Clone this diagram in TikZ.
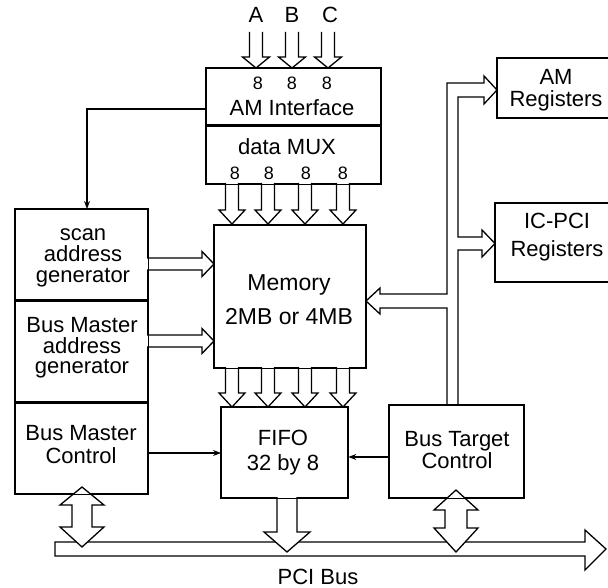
\documentclass[tikz,border=0pt]{standalone}
\usepackage{fontspec}
\setmainfont{Liberation Sans}
\usetikzlibrary{arrows.meta}

% hollow block arrow pointing down: centre x, tail y, head-base y, tip y, shaft half, head half
\newcommand\HollowDown[6]{%
  \draw[hollow] (#1-#5,#2) -- (#1-#5,#3) -- (#1-#6,#3) -- (#1,#4) -- (#1+#6,#3) -- (#1+#5,#3) -- (#1+#5,#2);}
% hollow block arrow pointing right: centre y, tail x, head-base x, tip x, shaft half, head half
\newcommand\HollowRight[6]{%
  \draw[hollow] (#2,#1-#5) -- (#3,#1-#5) -- (#3,#1-#6) -- (#4,#1) -- (#3,#1+#6) -- (#3,#1+#5) -- (#2,#1+#5);}
% closed double-headed vertical arrow: x, top tip, top base, bottom base, bottom tip, shaft half, head half
\newcommand\HollowUpDown[7]{%
  \draw[hollow] (#1,#2) -- (#1+#7,#3) -- (#1+#6,#3) -- (#1+#6,#4) -- (#1+#7,#4) -- (#1,#5)
    -- (#1-#7,#4) -- (#1-#6,#4) -- (#1-#6,#3) -- (#1-#7,#3) -- cycle;}

\begin{document}
\begin{tikzpicture}[x=1pt,y=-1pt,
  line width=1.3pt, line join=miter,
  box/.style={draw, rectangle, inner sep=0pt, anchor=north west},
  lbl/.style={inner sep=0pt, align=center, font=\fontsize{22}{21}\selectfont},
  digit/.style={inner sep=0pt, font=\fontsize{18}{18}\selectfont},
  hollow/.style={draw, fill=white},
  thin/.style={line width=1.1pt, -{Stealth[length=8pt,width=6pt]}}]

\useasboundingbox (0,0) rectangle (608,588);

% ---------------- blocks ----------------
\node[box, minimum width=174pt, minimum height=57pt] (ami) at (206,68) {};
\node[box, minimum width=174pt, minimum height=58pt] (mux) at (206,125) {};
\node[box, minimum width=151pt, minimum height=142pt] (mem) at (214,225) {};
\node[box, minimum width=132pt, minimum height=91pt] (scan) at (15,209) {};
\node[box, minimum width=132pt, minimum height=102pt] (bma) at (15,300) {};
\node[box, minimum width=132pt, minimum height=91pt] (bmc) at (15,402) {};
\node[box, minimum width=126pt, minimum height=90pt] (fifo) at (221,407) {};
\node[box, minimum width=134pt, minimum height=92pt] (btc) at (389,405) {};
% register blocks run off the right edge
\draw (608,58) -- (497,58) -- (497,118) -- (608,118);
\draw (608,203) -- (495,203) -- (495,282) -- (608,282);

% ---------------- texts ----------------
\node[lbl] (la) at (256,15) {A};
\node[lbl] (lb) at (292,15) {B};
\node[lbl] (lc) at (330,15) {C};
\node[digit] (ia) at (258,83) {8};
\node[digit] (ib) at (292,83) {8};
\node[digit] (ic) at (327,83) {8};
\node[lbl] (amitext) at (292,108) {AM Interface};
\node[lbl] (muxtext) at (287,147) {data MUX};
\node[digit] (oa) at (235,173) {8};
\node[digit] (ob) at (269,173) {8};
\node[digit] (oc) at (306,173) {8};
\node[digit] (od) at (343,173) {8};
\node[lbl, font=\fontsize{23}{34}\selectfont] (memtext) at (289,300) {Memory\\2MB or 4MB};
\node[lbl] (scantext) at (83,258) {scan\\address\\generator};
\node[lbl, font=\fontsize{22}{20.5}\selectfont] (bmatext) at (82,348) {Bus Master\\address\\generator};
\node[lbl, font=\fontsize{22}{23}\selectfont] (bmctext) at (81,445) {Bus Master\\Control};
\node[lbl, font=\fontsize{22}{25}\selectfont] (fifotext) at (283,453) {FIFO\\32 by 8};
\node[lbl, font=\fontsize{22}{20}\selectfont] (btctext) at (457,450) {Bus Target\\Control};
\node[lbl, font=\fontsize{22}{22}\selectfont] (amregtext) at (556,90) {AM\\Registers};
\node[lbl, font=\fontsize{22}{28}\selectfont] (icpcitext) at (557,237) {IC-PCI\\Registers};
\node[lbl] (pcitext) at (318,577) {PCI Bus};

% ---------------- PCI bus ----------------
\draw[hollow] (585,542) -- (55,542) -- (55,556) -- (585,556) -- (585,570) -- (606,549) -- (585,530) -- cycle;

% ---------------- hollow arrows ----------------
% inputs A, B, C
\HollowDown{256}{32}{57}{68}{6.5}{13.5}
\HollowDown{292}{32}{57}{68}{6.5}{13.5}
\HollowDown{328}{32}{57}{68}{6.5}{13.5}
% data MUX to memory
\foreach \cx in {232,268,305,343} {\HollowDown{\cx}{183}{210}{224}{6.5}{13}}
% memory to FIFO
\foreach \cx in {232,268,305,343} {\HollowDown{\cx}{367}{393}{407}{6.5}{13}}
% address generators to memory
\HollowRight{264}{147}{202}{214}{6}{12.5}
\HollowRight{341}{147}{202}{214}{6}{12.5}
% FIFO onto the bus
\HollowDown{287}{497}{532}{552}{10}{23}
% bus controllers to and from the bus
\HollowUpDown{82}{487}{505}{527}{547}{10}{22}
\HollowUpDown{456}{490}{510}{528}{552}{11}{22}

% register bus from Bus Target Control, into memory and the registers
\draw (447,405) -- (447,308) -- (380,308) -- (380,314) -- (366,301) -- (380,288) -- (380,294)
  -- (447,294) -- (447,83) -- (484,83) -- (484,76) -- (497,90) -- (484,104) -- (484,97)
  -- (458,97) -- (458,237) -- (482,237) -- (482,230) -- (495,243.5) -- (482,257) -- (482,250)
  -- (458,250) -- (458,405);

% redraw block borders over the arrow fills
\foreach \b in {ami,mux,mem,scan,bma,bmc,fifo,btc} {\draw (\b.north west) rectangle (\b.south east);}

% ---------------- thin connectors ----------------
\draw[thin] (ami.west |- 0,109) -| (scan.north -| 87,0);
\draw[thin] (bmc.east |- 0,453) -- (fifo.west |- 0,453);
\draw[thin] (btc.west |- 0,457) -- (fifo.east |- 0,457);

\end{tikzpicture}
\end{document}
